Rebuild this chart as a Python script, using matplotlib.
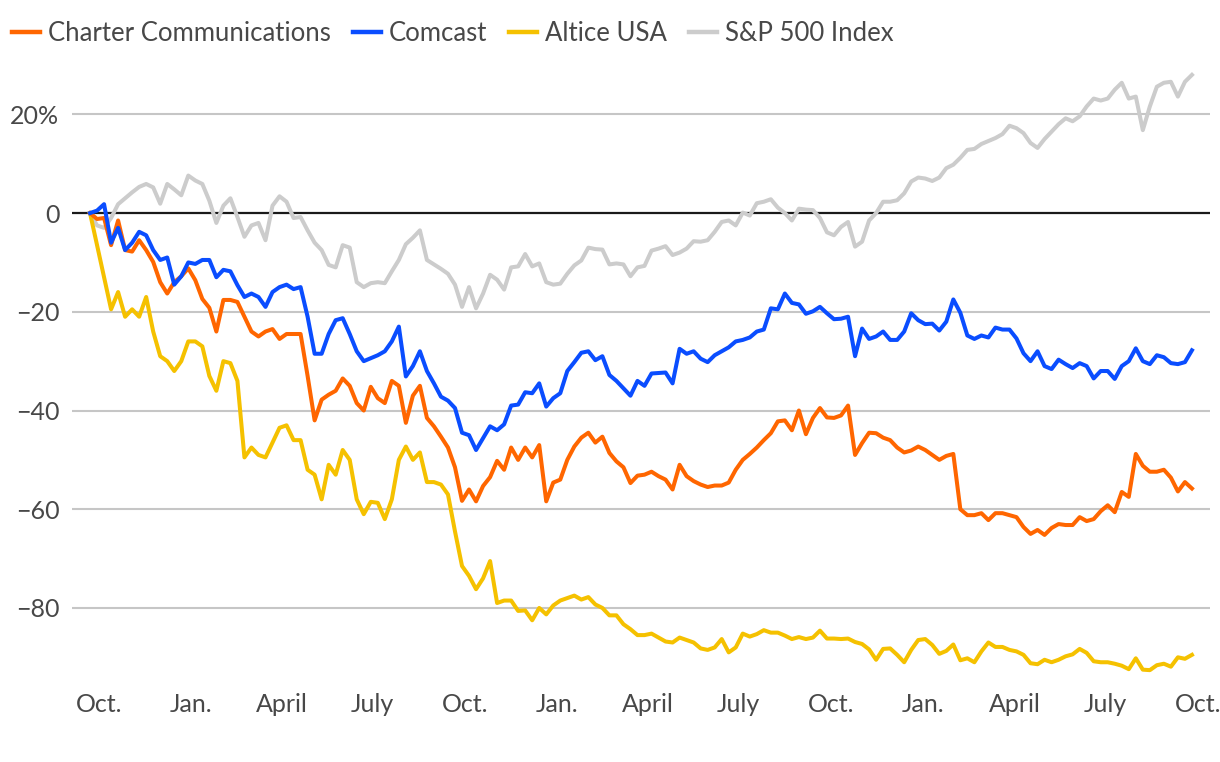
import matplotlib
matplotlib.use('Agg')
import matplotlib.pyplot as plt
import pandas as pd

plt.rcParams['font.family'] = ['Lato', 'DejaVu Sans']

# weekly closes, % change since late Sept. 2021
dates = pd.date_range('2021-09-22', periods=158, freq='7D')

comcast = [
    0, 0.5, 1.8, -6, -3, -7.5, -6, -3.8, -4.5, -7.5,
    -9.5, -9, -14.5, -12.8, -10, -10.3, -9.5, -9.5, -13, -11.5,
    -11.8, -14.6, -17, -16.3, -17, -19, -16, -15, -14.5, -15.4,
    -15, -21, -28.5, -28.5, -24.5, -21.7, -21.3, -24.5, -28, -30,
    -29.4, -28.8, -28, -26, -23, -33.1, -31, -28, -32, -34.5,
    -37.2, -38, -39.5, -44.5, -45, -48, -45.6, -43.2, -44, -42.8,
    -39, -38.8, -36.3, -36.5, -34.5, -39.2, -37.5, -36.5, -32, -30.2,
    -28.3, -28, -29.8, -29, -32.8, -34, -35.5, -37, -34, -35,
    -32.5, -32.4, -32.3, -34.5, -27.5, -28.5, -28, -29.5, -30.2, -28.8,
    -28, -27.2, -26, -25.7, -25.2, -24, -23.6, -19.3, -19.5, -16.3,
    -18.2, -18.5, -20.4, -19.9, -19, -20.3, -21.5, -21.4, -21, -29,
    -23.4, -25.5, -25, -24, -25.7, -25.7, -24, -20.3, -21.7, -22.5,
    -22.4, -23.8, -22, -17.5, -20.2, -24.8, -25.5, -24.8, -25.2, -23.2,
    -23.6, -23.6, -25.4, -28.4, -30, -28, -31, -31.6, -29.7, -30.6,
    -31.4, -30.4, -31, -33.5, -32, -32, -33.6, -31, -30, -27.4,
    -30, -30.6, -28.8, -29.2, -30.4, -30.6, -30.2, -27.8,
]

charter = [
    0, -1.2, -1, -6.5, -1.5, -7.5, -7.8, -5.5, -7.5, -9.9,
    -14, -16.3, -14, -12.8, -11.2, -13.6, -17.4, -19.2, -24, -17.6,
    -17.6, -18, -21, -24, -25, -24, -23.5, -25.5, -24.5, -24.5,
    -24.5, -33, -42, -37.8, -36.8, -36, -33.5, -35, -38.5, -40,
    -35.2, -37.5, -38.5, -34, -35, -42.5, -37, -35, -41.5, -43.2,
    -45.3, -47.5, -51.5, -58.3, -56, -58.4, -55.3, -53.5, -50.2, -52,
    -47.5, -50, -47.5, -49.5, -47, -58.4, -54.6, -54, -50, -47.3,
    -45.5, -44.5, -46.5, -45.3, -48.6, -50.3, -51.5, -54.7, -53.2, -53,
    -52.4, -53.3, -54, -56, -51, -53.3, -54.3, -55, -55.5, -55.2,
    -55.2, -54.6, -52, -50, -48.8, -47.5, -46, -44.6, -42.2, -42,
    -44, -40, -44.8, -41.5, -39.5, -41.4, -41.5, -41, -39, -49,
    -46.6, -44.5, -44.6, -45.5, -46, -47.5, -48.5, -48.1, -47.3, -48,
    -49, -50, -49.2, -48.8, -60, -61.2, -61.2, -60.8, -62.2, -60.8,
    -60.8, -61.2, -61.6, -63.6, -65, -64.2, -65.2, -63.8, -63, -63.2,
    -63.2, -61.6, -62.4, -62, -60.4, -59.2, -60.6, -56.5, -57.5, -48.8,
    -51.2, -52.4, -52.4, -52, -53.6, -56.4, -54.5, -55.8,
]

altice = [
    0, -6.5, -13, -19.5, -16, -21, -19.5, -21, -17, -24,
    -29, -30, -32, -30, -26, -26, -27, -33, -36, -30,
    -30.4, -34, -49.5, -47.5, -49, -49.5, -46.5, -43.5, -43, -46,
    -46, -52, -53, -58, -51, -53, -48, -50, -58, -61,
    -58.5, -58.7, -62, -58, -50, -47.3, -50, -48.5, -54.5, -54.5,
    -55, -57, -64.5, -71.5, -73.5, -76.2, -74, -70.5, -79, -78.5,
    -78.5, -80.6, -80.5, -82.5, -80, -81.3, -79.5, -78.5, -78, -77.5,
    -78.3, -77.8, -79.3, -80, -81.5, -81.5, -83.3, -84.3, -85.5, -85.5,
    -85.2, -86, -86.8, -87, -86, -86.5, -87, -88.2, -88.5, -88,
    -86.3, -89, -88, -85.2, -85.8, -85.3, -84.5, -85, -85, -85.6,
    -86.3, -85.9, -86.3, -86, -84.6, -86.2, -86.2, -86.3, -86.2, -86.9,
    -87.3, -88.4, -90.5, -88.3, -88.2, -89.5, -91, -88.5, -86.5, -86.3,
    -87.5, -89.3, -88.7, -87.4, -90.6, -90.2, -91, -88.8, -87, -87.9,
    -87.9, -88.5, -88.8, -89.5, -91.2, -91.4, -90.5, -91, -90.5, -89.8,
    -89.4, -88.3, -89.1, -90.8, -91, -91, -91.3, -91.7, -92.4, -90.2,
    -92.5, -92.6, -91.6, -91.3, -91.9, -90, -90.3, -89.5,
]

sp500 = [
    0, -2.5, -3, -1, 1.8, 3, 4.2, 5.3, 5.9, 5.2,
    1.9, 5.9, 4.8, 3.6, 7.6, 6.6, 5.9, 2.5, -2, 1.5,
    3, -0.8, -4.8, -2.5, -2, -5.5, 1.5, 3.4, 2.3, -1,
    -0.8, -3.5, -6, -7.5, -10.5, -11, -6.5, -7, -14, -15,
    -14.2, -14, -14.2, -11.8, -9.5, -6.3, -5, -3.5, -9.5, -10.4,
    -11.3, -12.3, -14.5, -19, -15, -19.3, -16.3, -12.5, -13.5, -15.5,
    -11, -10.8, -8.3, -10.8, -10.2, -14, -14.5, -14.3, -12.3, -10.6,
    -9.6, -7, -7.3, -7.4, -10.4, -10.2, -10.4, -12.8, -11, -10.7,
    -7.6, -7.2, -6.7, -8.5, -8, -7.2, -5.7, -5.8, -5.5, -3.8,
    -1.8, -1.5, -2.5, 0.1, -0.5, 2, 2.3, 2.8, 1.1, 0,
    -1.5, 0.9, 0.7, 0.6, -1, -3.9, -4.5, -2.8, -1.8, -6.8,
    -5.8, -1.5, 0, 2.3, 2.3, 2.6, 4, 6.4, 7.2, 7,
    6.5, 7.2, 9.1, 9.8, 11.2, 12.8, 13, 14, 14.6, 15.2,
    16, 17.7, 17.2, 16.2, 14.2, 13.2, 15, 16.5, 18, 19.2,
    18.6, 19.6, 21.6, 23.2, 22.8, 23.2, 25, 26.4, 23.2, 23.6,
    16.8, 21.6, 25.6, 26.4, 26.6, 23.6, 26.6, 28,
]

tick_dates = pd.to_datetime([
    '2021-10-01', '2022-01-01', '2022-04-01', '2022-07-01',
    '2022-10-01', '2023-01-01', '2023-04-01', '2023-07-01',
    '2023-10-01', '2024-01-01', '2024-04-01', '2024-07-01', '2024-10-01',
])
tick_labels = ['Oct.', 'Jan.', 'April', 'July'] * 3 + ['Oct.']
y_ticks = [-80, -60, -40, -20, 0, 20]
y_labels = ['\u221280', '\u221260', '\u221240', '\u221220', '0', '20%']

txt = '#484848'

fig = plt.figure(figsize=(12.2, 7.62), dpi=100)
ax = fig.add_axes([0.059, 0.105, 0.9328, 0.8097])

ax.plot(dates, sp500, color='#cccccc', lw=2.9, label='S&P 500 Index', zorder=3)
ax.plot(dates, altice, color='#f5c100', lw=2.9, label='Altice USA', zorder=4)
ax.plot(dates, charter, color='#ff6600', lw=2.9, label='Charter Communications', zorder=5)
ax.plot(dates, comcast, color='#0a4dff', lw=2.9, label='Comcast', zorder=6)

ax.axhline(0, color='#1a1a1a', lw=1.6, zorder=2)
for y in y_ticks:
    if y != 0:
        ax.axhline(y, color='#c6c6c6', lw=1.5, zorder=1)

ax.set_xlim(pd.Timestamp('2021-09-04'), pd.Timestamp('2024-10-13'))
ax.set_ylim(-95, 30)
ax.set_yticks(y_ticks)
ax.set_yticklabels(y_labels)
ax.set_xticks(tick_dates)
ax.set_xticklabels(tick_labels)
ax.tick_params(length=0, labelsize=18, labelcolor=txt)
ax.tick_params(axis='y', pad=9)
ax.tick_params(axis='x', pad=8)
for s in ax.spines.values():
    s.set_visible(False)

h, l = ax.get_legend_handles_labels()
order = [2, 3, 1, 0]
leg = fig.legend([h[i] for i in order], [l[i] for i in order],
                 loc='upper left', bbox_to_anchor=(0.0016, 0.9856), ncol=4,
                 frameon=False, fontsize=18.5, handlelength=1.1,
                 handletextpad=0.3, columnspacing=0.85, borderaxespad=0.0)
for line in leg.get_lines():
    line.set_linewidth(3.2)
for t in leg.get_texts():
    t.set_color(txt)

fig.savefig('out.png', dpi=100)
